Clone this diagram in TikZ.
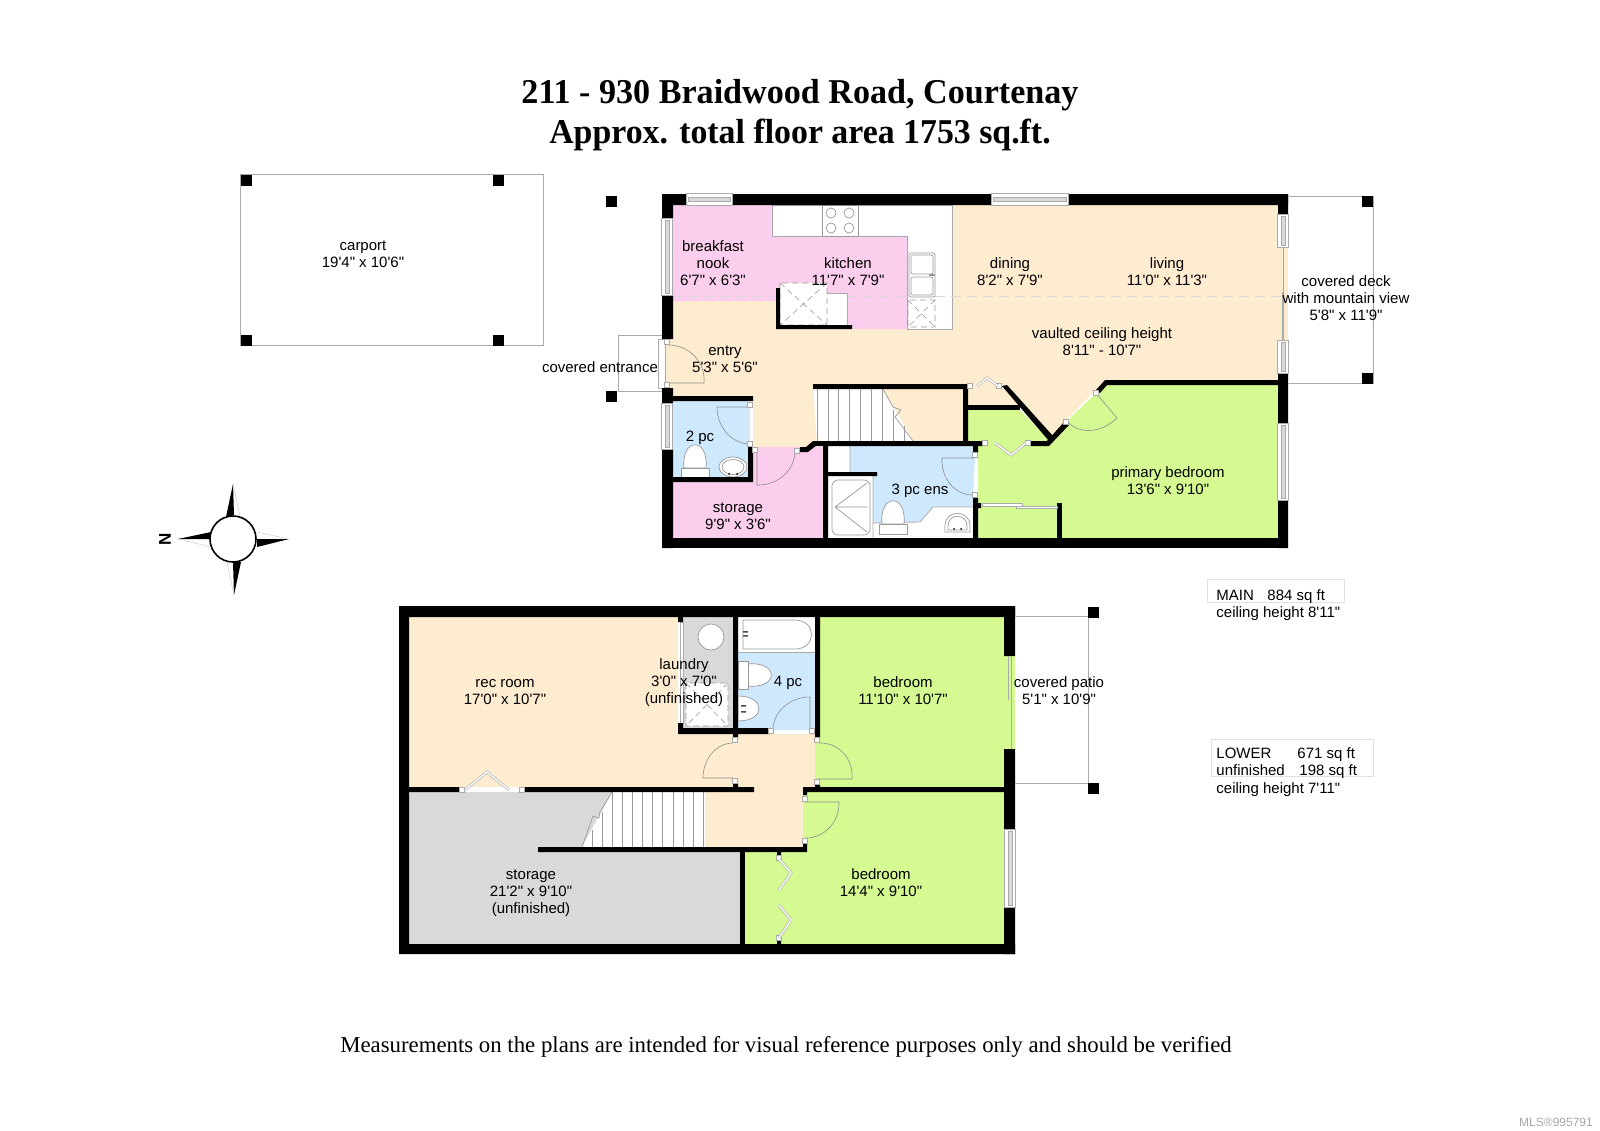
\documentclass[tikz,border=0pt]{standalone}
\usepackage{fontspec}
\usetikzlibrary{calc}
\newfontfamily\labelfont{Liberation Sans}
\newfontfamily\serfont{Liberation Serif}
\definecolor{cream}{RGB}{254,236,208}
\definecolor{pink}{RGB}{252,206,238}
\definecolor{blue}{RGB}{206,232,253}
\definecolor{green}{RGB}{213,250,145}
\definecolor{unfin}{RGB}{217,217,217}
\definecolor{line}{RGB}{170,170,170}
\tikzset{
    %Define the looks of the plan
    roomtext/.style={font=\labelfont\fontsize{7.5}{8.5}\selectfont,align=center,inner sep=0pt},
    infotext/.style={font=\labelfont\fontsize{7.5}{8.5}\selectfont,anchor=base west,inner sep=0pt},
    titletext/.style={font=\serfont\bfseries\fontsize{17.4}{20}\selectfont,inner sep=0pt},
    thinline/.style={draw=line,line width=0.4pt},
    fixline/.style={draw=line!90!black,line width=0.35pt},
    fixdash/.style={draw=line!90!black,line width=0.3pt,densely dashed},
    doorline/.style={draw=black!45,line width=0.3pt},
    bifold/.style={draw=line,line width=0.3pt,double=white,double distance=0.7pt}
}
\def\cPost#1{\fill[black] (#1) ++(-5.5,-5.5) rectangle ++(11,11);}
\def\dPost#1{\draw[fill=white,draw=line,line width=0.3pt] (#1) ++(-2.5,-2.5) rectangle ++(5,5);}
\def\rDoor#1#2#3#4{
    \fill[#1] (#2) -- (#3) .. controls ($(#3)+0.55*(#4)-0.55*(#2)$) and ($(#4)+0.55*(#3)-0.55*(#2)$) .. (#4) -- cycle;
    \draw[doorline] (#2) -- (#3) .. controls ($(#3)+0.55*(#4)-0.55*(#2)$) and ($(#4)+0.55*(#3)-0.55*(#2)$) .. (#4);
}
\def\vWin#1#2#3{
    \begin{scope}[shift={(#1,#2)}]
        \draw[fill=white,thinline] (0,0) rectangle (11.5,#3);
        \fill[unfin] (4,2) rectangle (8,#3-2);
        \draw[thinline,line width=0.25pt] (4,2) rectangle (8,#3-2);
    \end{scope}
}
\def\hWin#1#2#3{
    \begin{scope}[shift={(#1,#2)}]
        \draw[fill=white,thinline] (0,0) rectangle (#3,11.5);
        \fill[unfin] (2,4) rectangle (#3-2,8);
        \draw[thinline,line width=0.25pt] (2,4) rectangle (#3-2,8);
    \end{scope}
}
\def\rToilet#1#2{
    \begin{scope}[shift={#1},rotate=#2]
        \draw[fill=white,fixline] (-11,1) .. controls (-14,-30) and (14,-30) .. (11,1) -- cycle;
        \draw[fill=white,fixline] (-14,1) -- (14,1) -- (14,11) -- (-14,11) -- cycle;
    \end{scope}
}
\begin{document}
\begin{tikzpicture}[x=0.5pt,y=-0.5pt]
    \useasboundingbox (0,0) rectangle (1600,1130);

    % floors of the main level
    \fill[cream] (673,205) -- (1278,205) -- (1278,380) -- (1105,380) -- (1050,437) -- (1020,405)
        -- (968,405) -- (968,384) -- (813,384) -- (817,447) -- (753,447) -- (753,396) -- (673,396) -- cycle;
    \fill[cream] (665,339) rectangle (673,388);
    \fill[cream] (1278,247) rectangle (1288,340);
    \fill[cream] (883,389) rectangle (963,441);
    \fill[pink] (673,205) -- (772,205) -- (772,236) -- (907,236) -- (907,329) -- (776,329) -- (776,301) -- (673,301) -- cycle;
    \fill[pink] (753,447) -- (823,447) -- (823,538) -- (673,538) -- (673,482) -- (753,482) -- cycle;
    \fill[blue] (673,401) rectangle (748,477);
    \fill[blue] (850,446) -- (973,446) -- (973,507) -- (933,507) -- (920,522) -- (873,523) -- (873,476) -- (850,472) -- cycle;
    \fill[green] (968,410) -- (1020,410) -- (1050,441) -- (1105,385) -- (1278,385) -- (1278,538)
        -- (978,538) -- (978,446) -- (968,446) -- cycle;

    % kitchen counters and closet
    \draw[fill=white,thinline] (772,205) -- (952,205) -- (952,329) -- (907,329) -- (907,236) -- (772,236) -- cycle;
    \draw[draw=black!15,dash pattern=on 5pt off 3pt,line width=0.4pt] (673,296) -- (776,296) (847,296) -- (909,296) (935,296) -- (1288,296);
    \draw[fill=white,fixline] (822,205) rectangle (858,236);
    \draw[fixline] (831,213) circle (5) (849,213) circle (5) (831,228) circle (5) (849,228) circle (5);
    \draw[fill=white,fixline,rounded corners=1pt] (909,253) rectangle (935,297);
    \draw[fixline,rounded corners=1pt] (911,255) rectangle (933,274) (911,277) rectangle (933,295);
    \draw[fixline,line width=0.8pt] (929,275) -- (935,275);
    \draw[fixdash] (908,300) rectangle (935,327) (908,300) -- (935,327) (935,300) -- (908,327);
    \fill[white] (780,283) -- (827,283) -- (827,293) -- (847,293) -- (847,325) -- (780,325) -- cycle;
    \draw[thinline] (827,293) -- (847,293) -- (847,325);
    \draw[fixdash] (780,283) rectangle (827,325) (780,283) -- (827,325) (827,283) -- (780,325);

    % stairs of the main level
    \fill[white] (817,389) -- (883,389) -- (913,441) -- (817,441) -- cycle;
    \draw[fixline] (817,389) -- (817,441) (828,389) -- (828,441) (838,389) -- (838,441) (849,389) -- (849,441)
        (860,389) -- (860,441) (871,389) -- (871,441) (882,389) -- (882,441) (893,410) -- (893,441) (904,426) -- (904,441);
    \draw[fixline] (883,389) -- (893,407) -- (901,410) -- (895,417) -- (913,441);

    % ensuite fixtures
    \fill[white] (828,446) rectangle (850,472);
    \fill[white] (828,476) rectangle (873,538);
    \fill[white] (873,523) -- (920,522) -- (933,507) -- (973,507) -- (973,538) -- (873,538) -- cycle;
    \draw[thinline] (850,446) -- (850,472) (873,476) -- (873,538) (873,523) -- (920,522) -- (933,507) -- (973,507);
    \draw[fixline,rounded corners=3pt] (832,480) rectangle (870,535);
    \draw[fixline] (835,507) -- (867,483) (835,507) -- (867,507) (835,507) -- (867,532);
    \rToilet{(893,523)}{0}
    \draw[fill=white,fixline] (945,532) -- (945,526) .. controls (945,509) and (970,509) .. (970,526) -- (970,532) -- cycle;
    \draw[fixline] (948,530) -- (948,526) .. controls (948,513) and (967,513) .. (967,526) -- (967,530) -- cycle;
    \fill[black] (954,529) circle (1) (961,529) circle (1);
    \rToilet{(695,467)}{0}
    \draw[fill=white,fixline] (733,467) ellipse (14 and 10);
    \draw[fixline] (733,467) ellipse (11 and 7.5);
    \fill[black] (729,474) circle (1) (737,474) circle (1);

    % doors of the main level
    \rDoor{cream}{665,383}{704,383}{668,345}
    \rDoor{blue}{750,407}{717,407}{750,444}
    \rDoor{pink}{757,450}{757,485}{795,451}
    \rDoor{blue}{975,458}{942,458}{973,495}
    \rDoor{green}{1096,393}{1117,418}{1067,421}
    \draw[fill=white,thinline] (658,339) rectangle (665,388);
    \draw[thinline] (1283,247) -- (1283,340) (1282,292) -- (1282,340);

    % walls of the main level
    \fill[black] (662,194) rectangle (686,205) (732,194) rectangle (991,205) (1068,194) rectangle (1288,205);
    \fill[black] (662,194) rectangle (673,218) (662,295) rectangle (673,339) (662,388) rectangle (673,403) (662,449) rectangle (673,548);
    \fill[black] (662,538) rectangle (1288,548);
    \fill[black] (1278,194) rectangle (1288,214) (1278,373) rectangle (1288,423) (1278,500) rectangle (1288,548);
    \fill[black] (776,288) rectangle (780,329) (776,325) rectangle (852,329);
    \fill[black] (673,396) rectangle (753,401) (748,447) rectangle (753,482) (673,477) rectangle (753,482);
    \fill[black] (813,384) rectangle (968,389) (963,384) rectangle (968,441) (813,441) rectangle (983,446);
    \fill[black] (800,447) -- (806,447) -- (813,441) -- (817,445) -- (808,452) -- (800,452) -- cycle;
    \fill[black] (823,446) rectangle (828,538) (828,472) rectangle (877,476);
    \fill[black] (973,446) rectangle (978,453) (973,498) rectangle (978,538) (978,503) rectangle (981,508);
    \fill[black] (967,405) rectangle (1020,410);
    \fill[black] (1057,503) rectangle (1062,538);
    \fill[black] (1030,441) -- (1047,441) -- (1065,421) -- (1069,425) -- (1049,446) -- (1030,446) -- cycle;
    \fill[black] (1002,386) -- (1007,385) -- (1053,436) -- (1049,441) -- cycle;
    \fill[black] (1096,390) -- (1105,380) -- (1278,380) -- (1278,385) -- (1107,385) -- (1100,393) -- cycle;
    \hWin{686}{193.5}{46}
    \hWin{991}{193.5}{77}
    \vWin{661}{218}{77}
    \vWin{661}{403}{46}
    \vWin{1277}{214}{33}
    \vWin{1277}{340}{33}
    \vWin{1277}{423}{77}
    \draw[fill=white,thinline] (982,503) rectangle (1022,506) (1016,506) rectangle (1057,508);

    % door posts and bifolds of the main level
    \dPost{750,405}
    \dPost{750,444}
    \dPost{755,450}
    \dPost{797,451}
    \dPost{667,342}
    \dPost{667,385}
    \dPost{975,455}
    \dPost{975,495}
    \dPost{970,386}
    \dPost{999,386}
    \dPost{985,443}
    \dPost{1028,443}
    \dPost{1066,422}
    \dPost{1096,393}
    \draw[bifold] (977,386) -- (987,378) -- (998,386);
    \draw[bifold] (995,443) -- (1011,455) -- (1026,443);
    \draw[thinline] (618,391) -- (618,335) -- (662,335) (618,391) -- (662,391);
    \draw[thinline] (1288,196) -- (1373,196) -- (1373,383) -- (1288,383);
    \cPost{611.5,201}
    \cPost{611.5,396}
    \cPost{1367.5,201.5}
    \cPost{1367.5,378}

    % carport
    \draw[thinline] (240,174) rectangle (543,345);
    \cPost{246,180}
    \cPost{498,180}
    \cPost{246,340}
    \cPost{498,340}

    % floors of the lower level
    \fill[cream] (409,617) rectangle (678,787);
    \fill[cream] (678,734) rectangle (815,787);
    \fill[cream] (705,787) rectangle (803,847);
    \fill[unfin] (683,617) rectangle (733,728);
    \fill[white] (738,617) rectangle (815,652);
    \fill[blue] (738,652) rectangle (815,728);
    \fill[green] (820,617) rectangle (1004,787);
    \fill[green] (815,737) rectangle (820,784);
    \fill[green] (1004,656) rectangle (1015,749);
    \fill[green] (745,852) -- (803,852) -- (803,792) -- (1004,792) -- (1004,944) -- (745,944) -- cycle;
    \fill[unfin] (409,792) rectangle (582,852);
    \fill[unfin] (582,792) -- (612,792) -- (582,847) -- cycle;
    \fill[unfin] (409,852) rectangle (740,944);

    % stairs of the lower level
    \draw[fixline] (612,792) -- (612,847) (622,792) -- (622,847) (632,792) -- (632,847) (642,792) -- (642,847)
        (652,792) -- (652,847) (662,792) -- (662,847) (673,792) -- (673,847) (683,792) -- (683,847)
        (693,792) -- (693,847) (703,792) -- (703,847) (602,812) -- (602,847) (592,830) -- (592,847);
    \draw[fixline] (612,792) -- (600,812) -- (599,818) -- (593,816) -- (582,847);

    % fixtures of the lower level
    \draw[fill=white,fixline] (711,637) circle (13);
    \draw[fill=white,fixdash] (686,683) rectangle (728,726) (686,683) -- (728,726) (728,683) -- (686,726);
    \draw[fill=white,thinline] (680,622) rectangle (683,723);
    \draw[thinline] (738,652) -- (815,652);
    \draw[fixline] (743,620) -- (795,620) .. controls (817,620) and (817,649) .. (795,649) -- (743,649) -- cycle;
    \fill[black!70] (743,631) rectangle (748,632.5) (743,635) rectangle (748,636.5);
    \rToilet{(749,675)}{-90}
    \draw[fill=white,fixline] (738,696) .. controls (766,696) and (766,721) .. (738,721) -- cycle;
    \fill[black!70] (741,705) rectangle (746,706.5) (741,711) rectangle (746,712.5);
    \rDoor{blue}{810,730}{810,697}{773,730}
    \rDoor{cream}{733,778}{703,778}{733,743}
    \rDoor{green}{817,779}{852,779}{820,743}
    \rDoor{green}{805,802}{839,802}{806,838}

    % walls of the lower level
    \fill[black] (399,606) rectangle (1015,617) (399,606) rectangle (409,954) (399,944) rectangle (1015,954);
    \fill[black] (1004,606) rectangle (1015,656) (1004,749) rectangle (1015,829) (1004,907) rectangle (1015,954);
    \fill[black] (409,787) rectangle (460,792) (523,787) rectangle (754,792);
    \fill[black] (678,617) rectangle (683,622) (678,723) rectangle (683,734) (678,728) rectangle (770,734);
    \fill[black] (733,617) rectangle (738,738) (733,783) rectangle (738,787);
    \fill[black] (815,617) rectangle (820,737) (812,728) rectangle (820,734) (815,784) rectangle (820,787);
    \fill[black] (803,787) rectangle (1004,792) (803,787) rectangle (807,795);
    \fill[black] (538,847) rectangle (807,852) (803,843) rectangle (807,852);
    \fill[black] (740,852) rectangle (745,944);
    \fill[black] (777,852) rectangle (781,857) (777,938) rectangle (781,944);
    \draw[thinline] (1011,656) -- (1011,749) (1008,656) -- (1008,700);
    \vWin{1004}{829}{78}
    \dPost{735,740}
    \dPost{735,781}
    \dPost{771,731}
    \dPost{812,731}
    \dPost{817,740}
    \dPost{817,782}
    \dPost{805,799}
    \dPost{805,841}
    \dPost{462,790}
    \dPost{522,790}
    \dPost{779,858}
    \dPost{779,938}
    \draw[bifold] (465,790) -- (487,772) -- (509,790);
    \draw[bifold] (779,859) -- (791,873) -- (779,890);
    \draw[bifold] (779,905) -- (791,920) -- (779,938);
    \draw[thinline] (1015,616) -- (1088,616) -- (1088,783) -- (1015,783);
    \cPost{1093.5,612}
    \cPost{1093.5,788}

    % compass
    \fill[black] (233,484) -- (226,517) -- (234,515) -- cycle;
    \draw[draw=black!20,line width=0.25pt] (233,484) -- (240,516);
    \fill[black] (289,539) -- (257,547) -- (257,539) -- cycle;
    \draw[draw=black!20,line width=0.25pt] (289,539) -- (257,532);
    \fill[black] (234,595) -- (241,562) -- (233,562) -- cycle;
    \draw[draw=black!20,line width=0.25pt] (234,595) -- (227,562);
    \fill[black] (178,539) -- (211,532) -- (211,539) -- cycle;
    \draw[draw=black!20,line width=0.25pt] (178,539) -- (211,547);
    \draw[fill=white,line width=0.8pt] (233,539) circle (23);
    \node[rotate=90,font=\labelfont\bfseries\fontsize{8.5}{9}\selectfont,inner sep=0pt] (north) at (165,539) {N};

    % title and footer
    \node[titletext,xscale=0.98] (title1) at (800,95) {211 - 930 Braidwood Road, Courtenay};
    \node[titletext,xscale=0.972] (title2) at (800,135) {Approx. total floor area 1753 sq.ft.};
    \node[font=\serfont\fontsize{11.4}{13}\selectfont,inner sep=0pt] (footer) at (786,1047) {Measurements on the plans are intended for visual reference purposes only and should be verified};
    \node[font=\labelfont\fontsize{6}{7}\selectfont,text=black!35,inner sep=0pt] (mls) at (1556,1122) {MLS®995791};

    % room labels
    \node[roomtext] (carport) at (363,254) {carport\\19'4" x 10'6"};
    \node[roomtext] (nook) at (713,263) {breakfast\\nook\\6'7" x 6'3"};
    \node[roomtext] (kitchen) at (848,272) {kitchen\\11'7" x 7'9"};
    \node[roomtext] (dining) at (1010,272) {dining\\8'2" x 7'9"};
    \node[roomtext] (living) at (1167,272) {living\\11'0" x 11'3"};
    \node[roomtext] (vaulted) at (1102,342) {vaulted ceiling height\\8'11" - 10'7"\hspace{10pt}};
    \node[roomtext] (entry) at (725,359) {entry\\5'3" x 5'6"};
    \node[roomtext] (entrance) at (600,367) {covered entrance};
    \node[roomtext] (deck) at (1346,298) {covered deck\\with mountain view\\5'8" x 11'9"};
    \node[roomtext] (twopc) at (700,438) {2 pc};
    \node[roomtext] (storagea) at (738,516) {storage\\9'9" x 3'6"};
    \node[roomtext] (threepc) at (920,491) {3 pc ens};
    \node[roomtext] (primary) at (1168,481) {primary bedroom\\13'6" x 9'10"};
    \node[roomtext] (recroom) at (505,692) {rec room\\17'0" x 10'7"};
    \node[roomtext] (laundry) at (684,683) {laundry\\3'0" x 7'0"\\(unfinished)};
    \node[roomtext] (fourpc) at (788,683) {4 pc};
    \node[roomtext] (bedrooma) at (903,691) {bedroom\\11'10" x 10'7"};
    \node[roomtext] (patio) at (1059,691) {covered patio\\5'1" x 10'9"};
    \node[roomtext] (storageb) at (531,893) {storage\\21'2" x 9'10"\\(unfinished)};
    \node[roomtext] (bedroomb) at (881,883) {bedroom\\14'4" x 9'10"};

    % area boxes
    \draw[draw=black!12,line width=0.4pt] (1207,579) rectangle (1344,602);
    \draw[draw=black!12,line width=0.4pt] (1211,739) rectangle (1373,776);
    \node[infotext] (mainlabel) at (1216,600) {MAIN};
    \node[infotext] (mainarea) at (1267,600) {884 sq ft};
    \node[infotext] (mainheight) at (1216,617.5) {ceiling height 8'11"};
    \node[infotext] (lowerlabel) at (1216,758) {LOWER};
    \node[infotext] (lowerarea) at (1297,758) {671 sq ft};
    \node[infotext] (unfinlabel) at (1216,775.5) {unfinished};
    \node[infotext] (unfinarea) at (1299,775.5) {198 sq ft};
    \node[infotext] (lowerheight) at (1216,793) {ceiling height 7'11"};
\end{tikzpicture}
\end{document}
